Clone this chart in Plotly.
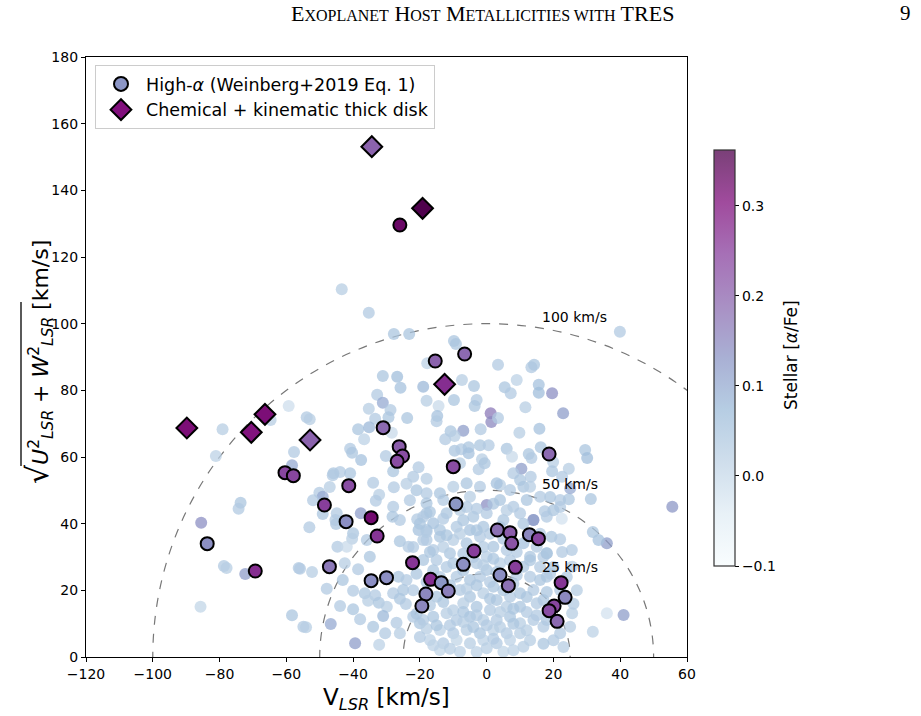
import plotly.graph_objects as go

# ---------------- data ----------------
# background sample: (V_LSR, sqrt(U^2+W^2), [alpha/Fe]) grouped by region of the plot
bg_upper = [
    (-43.4,110.3,0.03),(-35.3,103.3,0.04),(-27.8,96.9,0.05),(-23.2,96.9,0.05),(-9.8,94.8,0.05),(-9.2,93.9,0.05),
    (-17.8,88.1,0.02),(3.4,87.7,0.04),(13.4,86.9,0.04),(14.2,87.7,0.05),(-31.1,84.3,0.05),(-26.8,84.1,0.07),
    (-25.8,80.8,0.06),(-19.0,81.1,0.08),(-7.4,83.1,0.03),(-3.8,81.3,0.05),(9.0,83.1,0.02),(5.4,80.9,0.05),
    (7.2,79.1,0.04),(15.6,81.7,0.06),(15.6,79.3,0.07),(19.6,79.1,0.14),(-32.8,78.7,0.04),(-31.1,76.3,0.10),
    (-35.3,74.5,0.03),(-28.8,74.1,0.04),(-18.0,76.9,0.03),(-14.4,75.3,0.00),(-9.8,77.1,0.05),(-3.0,77.1,0.04),
    (-3.6,75.3,0.05),(11.6,74.9,0.03),(22.9,73.1,0.12),(1.2,73.1,0.17),(1.4,70.5,0.15),(3.4,71.7,0.04),
    (-33.4,71.5,0.04),(-29.4,71.9,0.05),(-23.8,71.7,0.05),(-14.8,72.3,0.06),(-15.0,70.7,0.04),(-38.5,68.3,0.05),
    (-35.2,68.9,0.08),(-28.4,67.3,0.00),(-36.7,65.3,0.02),(-10.8,67.7,0.05),(-7.0,67.9,0.12),(-1.8,68.3,0.04),
    (-12.4,65.3,0.04),(-9.6,66.3,0.03),(9.8,67.3,0.03),(15.8,68.5,0.06),(-40.9,62.5,0.04),(-40.3,61.3,0.05),
    (-37.6,59.1,0.06),(-30.2,60.3,0.04),(-28.0,55.7,0.05),(-20.4,56.9,0.04),(-9.6,61.9,0.05),(-7.6,62.3,0.04),
    (-5.4,62.9,0.05),(-5.4,61.1,0.06),(-2.0,63.5,0.05),(0.6,63.5,0.04),(-1.4,59.3,0.03),(-0.6,58.1,0.05),
    (-2.4,56.3,0.04),(-8.0,58.1,0.03),(6.0,62.5,0.05),(7.6,60.1,0.00),(12.6,60.9,0.05),(13.4,59.7,0.04),
    (16.2,62.9,0.05),(10.4,56.5,0.12),(19.9,58.5,0.03),(24.6,56.5,0.03),(29.5,62.1,0.05),(30.1,59.7,0.07),
    (-53.9,71.9,0.04),(-53.0,71.3,0.03),(-45.9,55.1,0.05),(-43.9,55.5,0.04),(-40.9,55.1,0.05),(-22.0,54.1,0.04),
    (-18.0,53.5,0.03),(39.9,97.6,0.04),
]
bg_right = [
    (13.2,54.1,0.04),(11.0,51.1,0.05),(8.0,55.1,0.04),(4.0,51.6,0.03),(22.0,47.1,0.04),(24.6,47.3,0.05),
    (31.2,47.4,0.05),(36.0,34.1,0.12),(33.5,35.1,0.06),(25.5,32.1,0.04),(14.0,41.1,0.12),(22.5,41.5,-0.02),
    (17.0,30.1,0.04),(13.0,30.1,0.05),(36.0,13.1,-0.02),(41.0,12.6,0.12),(31.8,7.6,0.02),(22.6,54.1,0.04),
    (19.6,55.7,0.05),(25.0,50.6,0.10),(55.6,45.1,0.13),(31.8,37.5,0.05),(18.0,31.1,0.05),(22.6,31.5,0.04),
    (19.4,36.1,0.05),(22.0,35.3,0.04),(17.4,43.7,0.04),(25.6,27.1,0.03),(18.0,24.1,0.05),(22.0,20.1,0.04),
    (25.6,13.1,0.03),(17.0,17.1,0.05),(18.0,11.1,0.05),(22.0,7.1,0.04),(25.0,9.1,0.03),(24.0,24.0,0.04),
    (27.0,20.0,0.03),(20.0,5.0,0.04),(17.0,4.0,0.05),(23.0,3.0,0.03),(26.0,16.0,0.04),(20.0,27.0,0.05),
    (22.0,45.0,0.04),(19.0,48.0,0.05),
]
bg_farleft = [
    (-59.3,75.3,-0.01),(-79.1,68.3,0.03),(-81.1,60.3,0.02),(-64.7,71.1,0.03),(-57.7,61.5,0.04),(-58.3,57.5,0.10),
    (-46.1,54.5,0.04),(-50.1,49.3,0.04),(-49.1,48.1,0.10),(-49.1,42.9,0.05),(-53.1,38.9,0.04),(-44.9,43.1,0.04),
    (-45.1,39.9,0.05),(-73.7,46.3,0.05),(-74.3,44.5,0.04),(-85.5,40.3,0.14),(-78.7,27.3,0.04),(-77.9,26.7,0.03),
    (-72.3,24.9,0.12),(-56.3,26.7,0.04),(-52.3,25.5,0.03),(-47.9,20.5,0.04),(-85.7,15.1,0.01),(-58.3,12.5,0.05),
    (-54.9,9.1,0.04),(-54.1,8.9,0.03),(-46.7,9.9,0.10),(-52.0,47.0,0.04),(-47.0,51.0,0.03),
]
bg_left = [
    (-34.0,52.3,0.04),(-27.8,50.9,0.04),(-32.2,48.7,0.03),(-33.2,46.9,0.04),(-37.7,43.1,0.12),(-28.0,45.1,0.04),
    (-28.2,42.1,0.05),(-20.8,41.3,0.04),(-18.0,43.1,0.05),(-45.3,41.1,0.04),(-40.0,37.1,0.05),(-40.3,35.5,0.03),
    (-44.7,33.1,0.04),(-41.9,33.1,0.00),(-35.9,35.1,0.04),(-26.0,34.7,0.05),(-23.4,33.1,0.04),(-20.4,38.1,0.06),
    (-18.0,38.1,0.05),(-19.0,35.1,0.04),(-35.0,30.1,0.05),(-42.5,28.1,0.03),(-38.5,26.3,0.04),(-55.9,26.5,0.04),
    (-43.1,23.1,0.05),(-40.0,19.9,0.04),(-36.5,19.1,0.05),(-33.4,18.5,0.04),(-35.5,16.9,0.03),(-32.3,16.3,0.05),
    (-28.0,19.1,0.04),(-26.0,17.5,0.05),(-24.2,15.9,0.04),(-29.9,15.1,0.03),(-43.9,15.3,0.04),(-40.0,14.3,0.05),
    (-31.0,12.3,0.08),(-37.9,11.3,0.04),(-34.0,9.1,0.05),(-27.0,10.3,0.04),(-30.4,7.1,0.04),(-26.0,7.1,0.03),
    (-39.4,4.1,0.12),(-32.2,3.7,0.02),(-20.0,10.1,0.05),(-22.0,12.1,0.04),(-26.0,41.1,0.04),(-26.4,24.1,0.05),
    (-24.0,23.1,0.04),(-25.0,20.1,0.05),(-23.0,47.0,0.04),(-21.0,50.0,0.05),(-24.0,52.0,0.03),
]
bg_core = [
    (-18,49.1,0.04),(-14,49.1,0.05),(-10,51.1,0.03),(-6,52.1,0.05),(-2,51.1,0.04),(3,52.1,0.06),(7,50.1,0.04),
    (10,53.1,0.05),(13,51.1,0.03),(-18,46.1,0.05),(-13,47.1,0.04),(-5,48.1,0.03),(0,45.6,0.14),(4,47.1,0.05),
    (8,45.1,0.04),(12,47.1,0.05),(16,48.1,0.04),(-19,42.1,0.04),(-16,40.1,0.06),(-12,43.1,0.05),(-8,44.1,0.03),
    (-4,42.1,0.05),(0,43.1,0.04),(5,41.1,0.05),(10,43.1,0.04),(14,41.1,0.12),(18,42.1,0.04),(-14,38.1,0.05),
    (-9,39.1,0.04),(-5,38.1,0.06),(-1,39.1,0.05),(-18,35.1,0.04),(-14,36.1,0.05),(-10,35.1,0.03),(-6,34.1,0.05),
    (-2,36.1,0.04),(2,33.1,0.05),(6,32.1,0.04),(11,34.1,0.06),(15,33.1,0.04),(18,31.1,0.05),(-16,32.1,0.04),
    (-11,31.1,0.05),(0,30.1,0.03),(-19,29.1,0.05),(-15,29.1,0.04),(-10,28.1,0.05),(-3,28.1,0.04),(0,26.1,0.05),
    (4,28.1,0.03),(11,27.1,0.05),(13,24.1,0.04),(16,23.1,0.05),(-9,24.1,0.04),(-5,23.1,0.05),(-2,24.1,0.04),
    (2,21.1,0.05),(-18,19.1,0.03),(-15,18.1,0.05),(-8,20.1,0.04),(-5,18.1,0.05),(-1,19.1,0.03),(3,17.1,0.05),
    (7,18.1,0.04),(10,19.1,0.05),(14,20.1,0.04),(-7,16.1,0.03),(-3,15.1,0.05),(1,14.1,0.04),(6,15.1,0.03),
    (10,15.1,0.05),(15,16.1,0.04),(-19,11.1,0.04),(-16,12.1,0.05),(-12,13.1,0.03),(-9,11.1,0.04),(-5,12.1,0.06),
    (-1,11.1,0.03),(3,11.1,0.04),(7,12.1,0.05),(10,10.1,0.03),(14,11.1,0.04),(-14,8.1,0.02),(-10,7.1,0.04),
    (-6,8.1,0.03),(-2,7.1,0.05),(2,8.1,0.02),(6,7.1,0.04),(10,7.1,0.03),(17,9.1,0.04),(-17,5.1,0.02),
    (-13,4.1,0.04),(-9,5.1,0.01),(-5,4.1,0.03),(-1,5.1,0.02),(3,4.1,0.04),(7,5.1,0.02),(11,3.1,0.03),
    (-14,2.1,0.01),(-8,1.6,0.02),(0,2.6,0.03),(5,1.6,0.01),
]
bg_core2 = [
    (-17,43.5,0.05),(-13,41.5,0.04),(-7,41,0.05),(-3,44.5,0.04),(2,46,0.05),(6,44,0.03),(11,40,0.05),
    (-18,37.5,0.04),(-12,36.5,0.05),(-8,37,0.03),(-3,38,0.05),(1,37,0.04),(5,35.5,0.05),(9,31.5,0.04),
    (-17,31.5,0.05),(-13,33,0.03),(-7,31,0.05),(-4,30,0.04),(2,29.5,0.05),(7,29,0.04),(-16,26,0.05),
    (-12,27,0.04),(-7,26,0.05),(-1,27.5,0.03),(3,25.5,0.05),(9,24.5,0.04),(-18,22.5,0.05),(-14,24,0.04),
    (-11,21.5,0.05),(-6,20.5,0.03),(-3,21.5,0.05),(1,22.5,0.04),(5,20,0.05),(8,22,0.04),(12,18,0.05),
    (-17,15.5,0.04),(-13,16.5,0.05),(-10,14,0.03),(-7,13.5,0.05),(-3,12.5,0.04),(1,17.5,0.05),(4,13.5,0.03),
    (8,14.5,0.05),(12,13.5,0.04),(-18,8.5,0.03),(-15,9.5,0.05),(-11,9.5,0.04),(-7,10.5,0.03),(-4,9,0.05),
    (0,9.5,0.04),(4,9,0.03),(8,10,0.05),(12,8,0.03),(15,12.5,0.04),(-16,3.5,0.02),(-11,2.5,0.03),
    (-3,1.5,0.02),(2,5.5,0.04),(8,2,0.02),(13,5,0.03),(-20,6,0.04),(-21,13,0.05),(-22,20,0.04),
    (-21,25,0.05),(-22,33,0.04),(-20,40,0.05),(16,27,0.04),(18,19.5,0.05),(19,25,0.04),(13,29,0.05),
    (16,37,0.04),(20,44,0.05),(-1,33,0.04),(4,39,0.05),(-6,45,0.04),
]

# High-alpha stars (Weinberg+2019 Eq. 1)
hi_v = [-26.0, -15.4, -6.6, -31.0, -26.2, -25.2, -26.8, -10.0, -41.3, -48.6, -9.2, -42.1, -34.6, -32.8, 3.2,
        7.0, 7.5, 12.8, 15.5, -3.8, -22.2, -7.0, 8.6, -47.1, -34.6, -30.0, -16.8, -13.6, -11.5, -18.2, -19.4,
        4.0, 6.5, 18.7, 22.3, 23.5, 20.2, 18.7, 21.1, -60.4, -57.9, -83.7, -69.3]
hi_uw = [129.6, 88.8, 90.9, 68.8, 63.1, 60.3, 58.7, 57.1, 51.4, 45.6, 45.9, 40.6, 41.8, 36.3, 38.1,
         37.3, 34.1, 36.7, 35.5, 31.8, 28.3, 27.8, 26.9, 27.1, 22.9, 23.8, 23.3, 22.3, 19.8, 18.9, 15.3,
         24.6, 21.4, 60.9, 22.3, 17.9, 15.3, 13.9, 10.7, 55.3, 54.4, 34.0, 25.8]
hi_afe = [0.33, 0.20, 0.19, 0.19, 0.21, 0.23, 0.23, 0.23, 0.23, 0.25, 0.13, 0.14, 0.32, 0.26, 0.18,
          0.21, 0.22, 0.15, 0.24, 0.25, 0.26, 0.14, 0.25, 0.17, 0.14, 0.14, 0.27, 0.13, 0.16, 0.15, 0.15,
          0.14, 0.18, 0.19, 0.26, 0.15, 0.24, 0.23, 0.19, 0.24, 0.24, 0.14, 0.27]

# Chemical + kinematic thick disk
td_v = [-34.4, -19.2, -89.8, -70.5, -66.4, -52.9, -12.6]
td_uw = [153.1, 134.6, 68.7, 67.4, 72.8, 65.1, 81.8]
td_afe = [0.20, 0.36, 0.31, 0.30, 0.31, 0.20, 0.27]

circle_radii = [25, 50, 100]
circle_labels = ["25 km/s", "50 km/s", "100 km/s"]
circle_label_y = [27, 52, 102]

cbar_ticks = [-0.1, 0.0, 0.1, 0.2, 0.3]
cbar_ticktext = ["\u22120.1", "0.0", "0.1", "0.2", "0.3"]
CMIN, CMAX = -0.1, 0.362

# ---------------- styling ----------------
BUPU = [(247,252,253),(224,236,244),(191,211,230),(158,188,218),(140,150,198),
        (140,107,177),(136,65,157),(129,15,124),(77,0,75)]
n = len(BUPU) - 1
cs_full = [[i / n, "rgb(%d,%d,%d)" % c] for i, c in enumerate(BUPU)]
ALPHA = 0.75
cs_bar = [[i / n, "rgb(%d,%d,%d)" % tuple(round(ALPHA * v + (1 - ALPHA) * 255) for v in c)]
          for i, c in enumerate(BUPU)]

bg = bg_upper + bg_right + bg_farleft + bg_left + bg_core + bg_core2
bg_v = [p[0] for p in bg]
bg_uw = [p[1] for p in bg]
bg_afe = [p[2] for p in bg]

FONT = "DejaVu Sans"
L, R, T, B = 86, 687, 57, 657
W_, H_ = R - L, B - T


def px(xp):
    return (xp - L) / W_


def py(yp):
    return (B - yp) / H_


fig = go.Figure()

fig.add_trace(go.Scatter(
    x=bg_v, y=bg_uw, mode="markers", showlegend=False, hoverinfo="skip",
    marker=dict(size=12, color=bg_afe, colorscale=cs_full, cmin=CMIN, cmax=CMAX,
                opacity=ALPHA, line=dict(width=0))))

# colorbar carrier
fig.add_trace(go.Scatter(
    x=[None, None], y=[None, None], mode="markers", showlegend=False, hoverinfo="skip",
    marker=dict(size=1, color=[CMIN, CMAX], colorscale=cs_bar, cmin=CMIN, cmax=CMAX, showscale=True,
                colorbar=dict(x=px(714), xanchor="left", y=py(358), yanchor="middle",
                              len=416 / H_, lenmode="fraction", thickness=21, xpad=0, ypad=0,
                              outlinecolor="#333333", outlinewidth=1.2,
                              tickvals=cbar_ticks, ticktext=cbar_ticktext, ticks="outside",
                              ticklen=4, tickwidth=1, tickcolor="black",
                              tickfont=dict(family=FONT, size=14, color="black")))))

fig.add_trace(go.Scatter(
    x=hi_v, y=hi_uw, mode="markers", showlegend=False, hoverinfo="skip",
    marker=dict(size=13, symbol="circle", color=hi_afe, colorscale=cs_full, cmin=CMIN, cmax=CMAX,
                line=dict(width=2, color="black"))))
fig.add_trace(go.Scatter(
    x=td_v, y=td_uw, mode="markers", showlegend=False, hoverinfo="skip",
    marker=dict(size=16, symbol="diamond", color=td_afe, colorscale=cs_full, cmin=CMIN, cmax=CMAX,
                line=dict(width=2, color="black"))))

# legend-only entries
fig.add_trace(go.Scatter(x=[None], y=[None], mode="markers", name="High-<i>\u03b1</i> (Weinberg+2019 Eq. 1)",
                         marker=dict(size=14, color="rgb(140,150,198)", line=dict(width=2, color="black"))))
fig.add_trace(go.Scatter(x=[None], y=[None], mode="markers", name="Chemical + kinematic thick disk",
                         marker=dict(size=18, symbol="diamond", color="rgb(129,15,124)",
                                     line=dict(width=2, color="black"))))

shapes = []
for r in circle_radii:
    shapes.append(dict(type="circle", xref="x", yref="y", x0=-r, x1=r, y0=-r, y1=r,
                       line=dict(color="#777777", width=1.2, dash="dash"), layer="below"))
# vinculum of the square-root sign in the y label
shapes.append(dict(type="line", xref="paper", yref="paper", x0=px(21), x1=px(21), y0=py(466), y1=py(302),
                   line=dict(color="black", width=1.3)))

annotations = []
for lab, ly in zip(circle_labels, circle_label_y):
    annotations.append(dict(x=16, y=ly, xref="x", yref="y", text=lab, showarrow=False,
                            xanchor="left", yanchor="middle", font=dict(family=FONT, size=14, color="black")))

# axis titles
annotations.append(dict(x=0.5, y=py(699), xref="paper", yref="paper",
                        text="V<sub><i>LSR</i></sub> [km/s]", showarrow=False, xanchor="center",
                        yanchor="middle", font=dict(family=FONT, size=23, color="black")))
annotations.append(dict(x=px(38), y=py(362), xref="paper", yref="paper", textangle=-90,
                        text="<span style='font-size:30px'>\u221a</span><i>U</i><sup>2</sup><sub><i>LSR</i></sub>"
                             " + <i>W</i><sup>2</sup><sub><i>LSR</i></sub> [km/s]",
                        showarrow=False, xanchor="center", yanchor="middle",
                        font=dict(family=FONT, size=22, color="black")))
annotations.append(dict(x=px(791), y=py(355), xref="paper", yref="paper", textangle=-90,
                        text="Stellar [<i>\u03b1</i>/Fe]", showarrow=False, xanchor="center",
                        yanchor="middle", font=dict(family=FONT, size=17, color="black")))

# running header
sc = "<span style='font-size:16px'>%s</span>"
header = "E" + sc % "XOPLANET" + " H" + sc % "OST" + " M" + sc % "ETALLICITIES WITH" + " TRES"
annotations.append(dict(x=px(482), y=py(13), xref="paper", yref="paper", text=header,
                        showarrow=False, xanchor="center", yanchor="middle",
                        font=dict(family="Liberation Serif", size=22, color="black")))
annotations.append(dict(x=px(906), y=py(13), xref="paper", yref="paper", text="9",
                        showarrow=False, xanchor="center", yanchor="middle",
                        font=dict(family="Liberation Serif", size=21, color="black")))

axis_common = dict(showline=True, linecolor="black", linewidth=1.2, mirror=True, ticks="outside",
                   ticklen=4, tickwidth=1, tickcolor="black", showgrid=False, zeroline=False,
                   tickfont=dict(family=FONT, size=14, color="black"))

fig.update_layout(
    width=921, height=716, margin=dict(l=L, r=921 - R, t=T, b=716 - B, autoexpand=False),
    paper_bgcolor="white", plot_bgcolor="white",
    xaxis=dict(range=[-120, 60], dtick=20, **axis_common),
    yaxis=dict(range=[0, 180], dtick=20, **axis_common),
    shapes=shapes, annotations=annotations,
    legend=dict(x=px(95), y=py(65), xanchor="left", yanchor="top", itemwidth=40,
                bgcolor="rgba(255,255,255,0.8)", bordercolor="#cccccc", borderwidth=1,
                font=dict(family=FONT, size=17.5, color="black"), tracegroupgap=2),
    showlegend=True,
)

fig.write_html("out.html")
